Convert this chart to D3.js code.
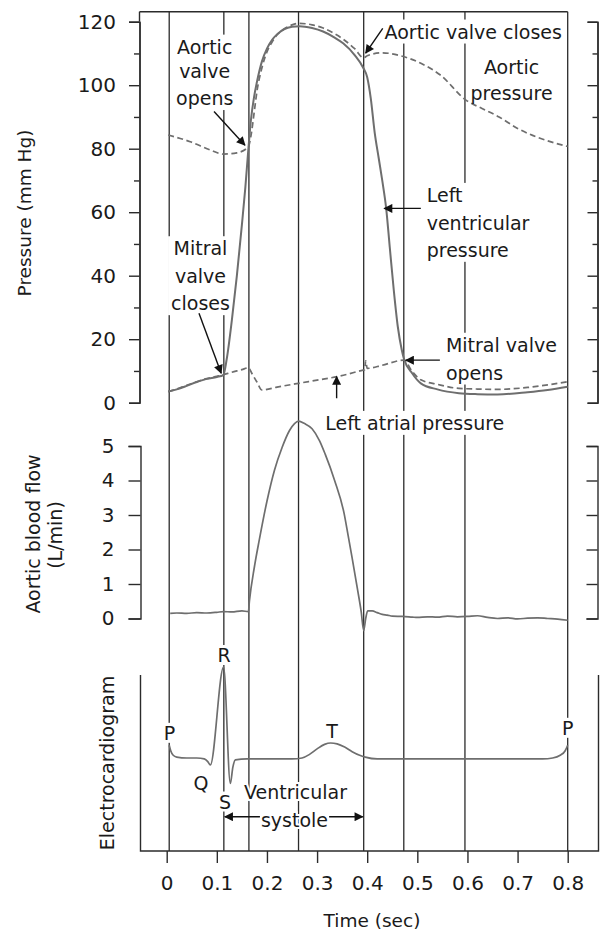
<!DOCTYPE html>
<html><head><meta charset="utf-8">
<script src="https://cdn.jsdelivr.net/npm/d3@7"></script>
<style>
body{margin:0;background:#fff}
svg{display:block}
text{font-family:"DejaVu Sans",sans-serif;fill:#1a1a1a}
</style>
</head><body><svg id="c" width="600" height="935"></svg>
<script>
// ---------- data ----------
const eventTimes = [0.005, 0.114, 0.164, 0.263, 0.393, 0.473, 0.595, 0.8];

const lvT = [0.003,0.02,0.04,0.06,0.08,0.10,0.113,0.12,0.13,0.14,0.15,0.157,0.163,0.168,0.174,0.18,0.19,0.20,0.21,0.22,0.235,0.25,0.265,0.29,0.312,0.335,0.352,0.375,0.392,0.40,0.407,0.415,0.423,0.43,0.438,0.445,0.453,0.461,0.469,0.473,0.49,0.507,0.54,0.583,0.62,0.66,0.72,0.76,0.80];
const lvP = [3.5,4.2,5.3,6.5,7.5,8.1,8.7,14,26,40,56,68,80,89,96,101,107.5,111.5,114.2,116,117.7,118.4,118.6,118,116.9,115,113.2,109.5,105.5,102.5,96,85,77,70,61,49,35.5,24,16.6,14,9.2,6.1,4.2,3.0,2.7,2.6,3.3,4,5];

const aoT = [0.003,0.047,0.087,0.113,0.14,0.163,0.168,0.175,0.18,0.19,0.2,0.21,0.22,0.235,0.25,0.265,0.29,0.312,0.335,0.352,0.375,0.393,0.40,0.43,0.468,0.507,0.546,0.597,0.63,0.663,0.7,0.736,0.77,0.8];
const aoP = [84.3,82.2,79.6,78.3,78.7,80.6,84,92,98,105.5,110.5,113.5,115.8,117.8,119,119.5,119,118,116.2,114.5,111.5,108.6,109.3,110.2,109.2,106.9,103.2,95.3,92.6,90,86.4,83.8,82,80.7];

const laT = [0.003,0.02,0.04,0.06,0.08,0.10,0.113,0.13,0.15,0.163,0.17,0.18,0.19,0.22,0.263,0.30,0.34,0.39,0.395,0.397,0.40,0.43,0.473,0.49,0.507,0.54,0.583,0.62,0.66,0.72,0.76,0.80];
const laP = [3.5,4.3,5.5,6.6,7.6,8.3,8.8,9.6,10.4,11,9.2,6.5,4.0,4.9,6.1,7.1,8.2,10.2,10.4,13.2,10.8,11.8,13.4,9.8,7.2,5.8,4.5,4.3,4.2,4.8,5.6,6.6];

const flowT = [0.007,0.02,0.04,0.06,0.08,0.10,0.113,0.13,0.15,0.163,0.165,0.175,0.185,0.2,0.215,0.23,0.245,0.255,0.263,0.275,0.29,0.305,0.316,0.335,0.354,0.362,0.37,0.38,0.388,0.393,0.397,0.401,0.41,0.42,0.43,0.44,0.45,0.47,0.49,0.5,0.52,0.54,0.56,0.58,0.6,0.62,0.64,0.66,0.68,0.7,0.72,0.74,0.76,0.78,0.8];
const flowV = [0.15,0.16,0.15,0.17,0.16,0.18,0.2,0.19,0.22,0.2,0.5,1.5,2.3,3.4,4.3,4.95,5.45,5.65,5.72,5.65,5.5,5.15,4.77,4.0,3.04,2.4,1.75,0.9,0.2,-0.35,0.0,0.22,0.22,0.17,0.12,0.1,0.07,0.06,0.04,0.03,0.05,0.04,0.07,0.05,0.06,0.08,0.03,0.0,0.02,-0.01,0.01,0.02,0.0,-0.02,-0.05];

const ecgT = [0.005,0.008,0.013,0.02,0.04,0.06,0.075,0.082,0.087,0.1135,0.127,0.132,0.137,0.16,0.2,0.25,0.27,0.285,0.30,0.315,0.327,0.34,0.355,0.37,0.385,0.396,0.42,0.5,0.6,0.7,0.75,0.77,0.785,0.795,0.8];
const ecgV = [0.14,0.08,0.03,0.01,0.0,0.0,-0.01,-0.04,-0.077,1.0,-0.28,-0.1,-0.02,-0.01,-0.01,-0.01,0.0,0.04,0.1,0.15,0.165,0.155,0.12,0.07,0.03,0.01,-0.01,-0.01,-0.01,-0.01,-0.01,0.0,0.03,0.08,0.14];

const pressureTicks = [0,20,40,60,80,100,120];
const pressureMinorTicks = [10,30,50,70,90,110];
const flowTicks = [0,1,2,3,4,5];
const flowTickLabels = ["0","1","2","3","4","5"];
const timeTicks = [0,0.1,0.2,0.3,0.4,0.5,0.6,0.7,0.8];
const timeTickLabels = ["0","0.1","0.2","0.3","0.4","0.5","0.6","0.7","0.8"];

const pressureNotes = [
  {lines:["Aortic","valve","opens"], t:0.0758, v:[112.1,104.3,95.9], anchor:"middle"},
  {lines:["Aortic valve closes"], t:0.4347, v:[116.85], anchor:"start"},
  {lines:["Aortic","pressure"], t:0.688, v:[105.8,97.6], anchor:"middle"},
  {lines:["Left","ventricular","pressure"], t:0.5187, v:[65.4,56.5,48.1], anchor:"start"},
  {lines:["Mitral","valve","closes"], t:0.0674, v:[48.6,39.7,31.3], anchor:"middle"},
  {lines:["Mitral valve","opens"], t:0.557, v:[18.2,9.45], anchor:"start"},
  {lines:["Left atrial pressure"], t:0.3164, v:[-6.4], anchor:"start"}
];
const pressureArrows = [
  {t0:0.0944, v0:91.7, t1:0.156, v1:81.1},
  {t0:0.431, v0:117.9, t1:0.397, v1:110.1},
  {t0:0.507, v0:61.2, t1:0.434, v1:61.2},
  {t0:0.0644, v0:28.2, t1:0.1087, v1:9.3},
  {t0:0.545, v0:13.4, t1:0.477, v1:13.4},
  {t0:0.339, v0:1.4, t1:0.339, v1:8.2}
];
const ecgNotes = [
  {text:"R", t:0.1143, v:1.13, box:true},
  {text:"P", t:0.0056, v:0.275, box:true},
  {text:"P", t:0.8, v:0.33, box:true},
  {text:"Q", t:0.0684, v:-0.275, box:false},
  {text:"S", t:0.1163, v:-0.48, box:true},
  {text:"T", t:0.330, v:0.29, box:false},
  {text:"Ventricular", t:0.257, v:-0.37, box:false},
  {text:"systole", t:0.255, v:-0.68, box:false}
];
const ecgArrows = [
  {t0:0.186, v0:-0.645, t1:0.116, v1:-0.645},
  {t0:0.324, v0:-0.645, t1:0.391, v1:-0.645}
];

// ---------- scales ----------
const x  = d3.scaleLinear().domain([0,0.8]).range([166.7,567.7]);
const yP = d3.scaleLinear().domain([0,120]).range([402.7,21.7]);
const yF = d3.scaleLinear().domain([0,5]).range([618.5,446]);
const yE = d3.scaleLinear().domain([0,1]).range([758,667]);

const L = {frameTop:11.7, leftX:139.5, rightX:597.5, ecgTop:675, bottomY:851};
const FS = 19;

const svg = d3.select("#c");
const defs = svg.append("defs");
defs.append("marker").attr("id","ah").attr("viewBox","0 0 10 10")
  .attr("refX",9).attr("refY",5).attr("markerWidth",11).attr("markerHeight",9)
  .attr("markerUnits","userSpaceOnUse").attr("orient","auto")
  .append("path").attr("d","M0,0 L10,5 L0,10 z").attr("fill","#111");

const gLines = svg.append("g");
const gBox = svg.append("g");
const gCurve = svg.append("g");
const gAxis = svg.append("g");
const gArrow = svg.append("g");
const gText = svg.append("g");

const frameColor = "#2b2b2b";
// event lines
gLines.selectAll("line.ev").data(eventTimes).join("line")
  .attr("x1",d=>x(d)).attr("x2",d=>x(d)).attr("y1",L.frameTop).attr("y2",L.bottomY)
  .attr("stroke",frameColor).attr("stroke-width",1.3);
// top frame
gAxis.append("line").attr("x1",L.leftX).attr("x2",x(0.8)).attr("y1",L.frameTop).attr("y2",L.frameTop)
  .attr("stroke",frameColor).attr("stroke-width",1.4);
gAxis.append("line").attr("x1",L.leftX).attr("x2",L.leftX).attr("y1",L.frameTop).attr("y2",yP(120))
  .attr("stroke",frameColor).attr("stroke-width",1.4);

function styleAxis(g){
  g.selectAll("path,line").attr("stroke",frameColor).attr("stroke-width",1.4);
  g.selectAll("text").style("font-family","'DejaVu Sans',sans-serif").style("font-size","20px").attr("fill","#1a1a1a");
}
// pressure axes
gAxis.append("g").attr("transform",`translate(${L.leftX},0)`)
  .call(d3.axisLeft(yP).tickValues(pressureTicks).tickSize(10.5).tickSizeOuter(10.5).tickPadding(13)).call(styleAxis);
gAxis.append("g").attr("transform",`translate(${L.leftX},0)`)
  .call(d3.axisLeft(yP).tickValues(pressureMinorTicks).tickSize(5.5).tickSizeOuter(0).tickFormat("")).call(styleAxis);
gAxis.append("g").attr("transform",`translate(${L.rightX},0)`)
  .call(d3.axisLeft(yP).tickValues(pressureTicks).tickSize(10).tickSizeOuter(10).tickFormat("")).call(styleAxis);
gAxis.append("g").attr("transform",`translate(${L.rightX},0)`)
  .call(d3.axisLeft(yP).tickValues(pressureMinorTicks).tickSize(5).tickSizeOuter(0).tickFormat("")).call(styleAxis);
// flow axes
gAxis.append("g").attr("transform",`translate(${L.leftX+1},0)`)
  .call(d3.axisLeft(yF).tickValues(flowTicks).tickSize(12).tickSizeOuter(12).tickPadding(14)
    .tickFormat((d,i)=>flowTickLabels[i])).call(styleAxis);
gAxis.append("g").attr("transform",`translate(${L.rightX},0)`)
  .call(d3.axisLeft(yF).tickValues(flowTicks).tickSize(11).tickSizeOuter(11).tickFormat("")).call(styleAxis);
// ecg frame
gAxis.append("path").attr("d",`M${L.leftX+1},${L.ecgTop}V${L.bottomY}H${L.rightX+1}V${L.ecgTop}`)
  .attr("fill","none").attr("stroke",frameColor).attr("stroke-width",1.4);
const xa = gAxis.append("g").attr("transform",`translate(0,${L.bottomY})`)
  .call(d3.axisBottom(x).tickValues(timeTicks).tickSize(12).tickPadding(13)
    .tickFormat((d,i)=>timeTickLabels[i])).call(styleAxis);
xa.select(".domain").remove();

// curves
const line = d3.line().curve(d3.curveMonotoneX);
const zip = (ts,vs,ys)=>ts.map((t,i)=>[x(t),ys(vs[i])]);
const curveColor = "#6e6e6e";
gCurve.append("path").attr("d",line(zip(aoT,aoP,yP))).attr("fill","none")
  .attr("stroke",curveColor).attr("stroke-width",1.7).attr("stroke-dasharray","6,3.5");
gCurve.append("path").attr("d",line(zip(laT,laP,yP))).attr("fill","none")
  .attr("stroke",curveColor).attr("stroke-width",1.7).attr("stroke-dasharray","6,3.5");
gCurve.append("path").attr("d",line(zip(lvT,lvP,yP))).attr("fill","none")
  .attr("stroke",curveColor).attr("stroke-width",2);
gCurve.append("path").attr("d",line(zip(flowT,flowV,yF))).attr("fill","none")
  .attr("stroke",curveColor).attr("stroke-width",1.7);
gCurve.append("path").attr("d",line(zip(ecgT,ecgV,yE))).attr("fill","none")
  .attr("stroke",curveColor).attr("stroke-width",1.7);

// arrows
function drawArrows(arr, ys){
  gArrow.selectAll(null).data(arr).join("line")
    .attr("x1",d=>x(d.t0)).attr("y1",d=>ys(d.v0)).attr("x2",d=>x(d.t1)).attr("y2",d=>ys(d.v1))
    .attr("stroke","#111").attr("stroke-width",1.4).attr("marker-end","url(#ah)");
}
drawArrows(pressureArrows, yP);
drawArrows(ecgArrows, yE);

// annotations
function addBox(node, pad){
  const b = node.getBBox();
  gBox.append("rect").attr("x",b.x-pad).attr("y",b.y-pad+2).attr("width",b.width+2*pad).attr("height",b.height+2*pad-4)
    .attr("fill","#fff");
}
pressureNotes.forEach(n=>{
  const g = gText.append("g");
  n.lines.forEach((s,i)=>{
    g.append("text").attr("x",x(n.t)).attr("y",yP(n.v[i])).attr("dy","0.36em")
      .attr("text-anchor",n.anchor).style("font-size",FS+"px").text(s);
  });
  addBox(g.node(),3);
});
ecgNotes.forEach(n=>{
  const t = gText.append("text").attr("x",x(n.t)).attr("y",yE(n.v)).attr("dy","0.36em")
    .attr("text-anchor","middle").style("font-size",FS+"px").text(n.text);
  if(n.box) addBox(t.node(),1);
  else t.attr("stroke","#fff").attr("stroke-width",4).attr("paint-order","stroke");
});

// axis titles
gText.append("text").attr("transform","translate(24,213) rotate(-90)").attr("dy","0.36em")
  .attr("text-anchor","middle").style("font-size","18.5px").text("Pressure (mm Hg)");
gText.append("text").attr("transform","translate(33,534) rotate(-90)").attr("dy","0.36em")
  .attr("text-anchor","middle").style("font-size","19px").text("Aortic blood flow");
gText.append("text").attr("transform","translate(55,535) rotate(-90)").attr("dy","0.36em")
  .attr("text-anchor","middle").style("font-size","19px").text("(L/min)");
gText.append("text").attr("transform","translate(107,763) rotate(-90)").attr("dy","0.36em")
  .attr("text-anchor","middle").style("font-size","19px").text("Electrocardiogram");
gText.append("text").attr("x",372).attr("y",920).attr("dy","0.36em")
  .attr("text-anchor","middle").style("font-size","18.5px").text("Time (sec)");
</script>
</body></html>
